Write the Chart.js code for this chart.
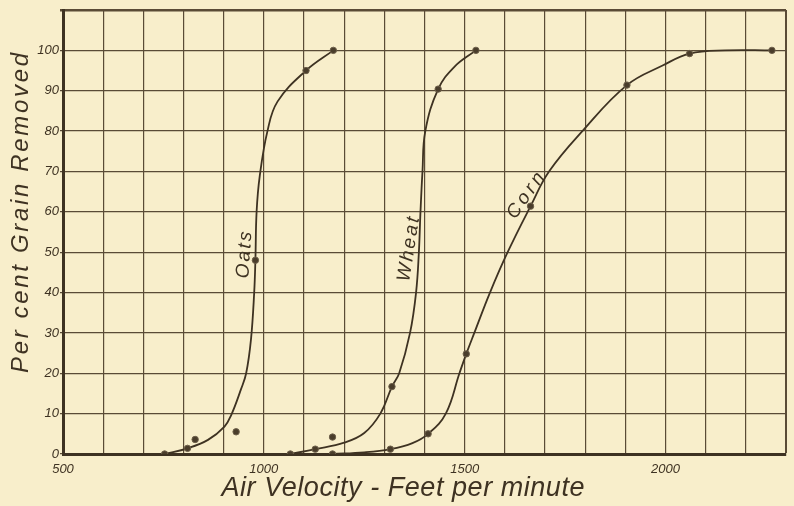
<!DOCTYPE html>
<html>
<head>
<meta charset="utf-8">
<script src="https://cdn.jsdelivr.net/npm/chart.js@4.4.1/dist/chart.umd.min.js"></script>
<style>
    html, body { margin: 0; padding: 0; background: #f8eecb; }
    #wrap { width: 794px; height: 506px; }
</style>
</head>
<body>
<div id="wrap"><canvas id="grain-chart" width="794" height="506"></canvas></div>
<script>
// ==========================================
// DATA
// ==========================================
// observed points (dots)
const oatsDotX  = [753, 810, 829, 931, 979, 1105, 1173];
const oatsDotY  = [0, 1.4, 3.6, 5.5, 48, 95, 100];
const wheatDotX = [1066, 1128, 1171, 1319, 1434, 1528];
const wheatDotY = [0, 1.2, 4.2, 16.7, 90.4, 100];
const cornDotX  = [1171, 1315, 1409, 1504, 1664, 1904, 2060, 2265];
const cornDotY  = [0, 1.2, 5, 24.8, 61.4, 91.4, 99.2, 100];

// the drawn (faired) curves
const oatsCurveX  = [753, 810, 861, 902, 919, 943, 956, 968, 976, 979, 982, 990, 1009, 1034, 1105, 1173];
const oatsCurveY  = [0, 1.4, 3.5, 6.8, 9.7, 16, 20, 28.4, 40, 48, 60, 69, 80, 87.3, 95, 100];
const wheatCurveX = [1066, 1128, 1200, 1250, 1290, 1319, 1337, 1364, 1379, 1386, 1390, 1395, 1402, 1434, 1475, 1528];
const wheatCurveY = [0, 1.2, 2.8, 5.2, 10, 16.7, 20, 30, 40, 50, 60, 70, 80, 90.4, 96, 100];
const cornCurveX  = [1171, 1250, 1315, 1370, 1409, 1453, 1487, 1504, 1524, 1563, 1607, 1664, 1710, 1793, 1904, 1994, 2060, 2149, 2265];
const cornCurveY  = [0, 0.4, 1.2, 2.7, 5, 10, 20, 24.8, 30, 40, 50, 61.4, 70, 80, 91.4, 96.3, 99.2, 100, 100];

const curveNames  = ['Oats', 'Wheat', 'Corn'];
const xTickLabels = [500, 1000, 1500, 2000];
const yTickLabels = [0, 10, 20, 30, 40, 50, 60, 70, 80, 90, 100];

// ==========================================
// STYLE
// ==========================================
const INK = '#3e3222';
const GRID = '#5a4b36';
const PAPER = '#f8eecb';
const FACE = '"Liberation Sans", Arial, sans-serif';

const toPoints = (xs, ys) => xs.map((x, i) => ({ x: x, y: ys[i] }));

function curveSet(xs, ys) {
    return {
        data: toPoints(xs, ys),
        showLine: true,
        borderColor: INK,
        borderWidth: 1.8,
        pointRadius: 0,
        tension: 0.4,
        fill: false,
        order: 2
    };
}

function dotSet(xs, ys) {
    return {
        data: toPoints(xs, ys),
        showLine: false,
        pointRadius: 3.2,
        pointBackgroundColor: '#4a3d2b',
        pointBorderColor: '#6e604a',
        pointBorderWidth: 1,
        order: 1
    };
}

// lettering spread to a given length (old plate hand-lettering is wide)
function letter(ctx, text, x, y, deg, size, target, baseline) {
    ctx.save();
    ctx.font = 'italic ' + size + 'px ' + FACE;
    ctx.letterSpacing = '0px';
    const w = ctx.measureText(text).width;
    const gap = Math.max(0, (target - w) / (text.length - 1));
    ctx.letterSpacing = gap + 'px';
    ctx.translate(x, y);
    ctx.rotate(deg * Math.PI / 180);
    ctx.textAlign = 'center';
    ctx.textBaseline = baseline || 'middle';
    ctx.fillStyle = INK;
    ctx.fillText(text, gap / 2, 0);
    ctx.restore();
}

const platePlugin = {
    id: 'plate',
    beforeDraw(chart) {
        const c = chart.ctx;
        c.save();
        c.fillStyle = PAPER;
        c.fillRect(0, 0, chart.width, chart.height);
        c.restore();
    },
    afterDraw(chart) {
        const c = chart.ctx;
        const xs = chart.scales.x, ys = chart.scales.y;

        // axis titles
        letter(c, 'Air Velocity - Feet per minute', 403, 496, 0, 27, 363, 'alphabetic');
        letter(c, 'Per cent Grain Removed', 28, 213, -90, 24, 320, 'alphabetic');

        // curve names along the lines
        const spots = [
            { x: 952,  y: 49.3, deg: -86, len: 47 },
            { x: 1361, y: 50.7, deg: -81, len: 65 },
            { x: 1652, y: 64,   deg: -55, len: 52 }
        ];
        curveNames.forEach((name, i) => {
            const s = spots[i];
            letter(c, name, xs.getPixelForValue(s.x), ys.getPixelForValue(s.y), s.deg, 19, s.len);
        });
    }
};

// ==========================================
// CHART
// ==========================================
new Chart(document.getElementById('grain-chart').getContext('2d'), {
    type: 'scatter',
    data: {
        datasets: [
            curveSet(oatsCurveX, oatsCurveY),
            curveSet(wheatCurveX, wheatCurveY),
            curveSet(cornCurveX, cornCurveY),
            dotSet(oatsDotX, oatsDotY),
            dotSet(wheatDotX, wheatDotY),
            dotSet(cornDotX, cornDotY)
        ]
    },
    options: {
        responsive: false,
        animation: false,
        layout: { padding: { top: 10, right: 1, left: 0, bottom: 0 } },
        plugins: { legend: { display: false }, tooltip: { enabled: false } },
        scales: {
            x: {
                type: 'linear', min: 500, max: 2300,
                afterFit: s => { s.height = 52; },
                ticks: {
                    stepSize: 100, autoSkip: false, maxRotation: 0, padding: 8,
                    color: INK, font: { family: FACE, style: 'italic', size: 13 },
                    callback: v => xTickLabels.includes(v) ? String(v) : ''
                },
                grid: {
                    color: GRID, drawTicks: false,
                    lineWidth: ctx => (ctx.tick && ctx.tick.value === 2300) ? 2 : 1.2
                },
                border: { color: INK, width: 3 }
            },
            y: {
                type: 'linear', min: 0, max: 110,
                afterFit: s => { s.width = 63; },
                ticks: {
                    stepSize: 10, padding: 1,
                    color: INK, font: { family: FACE, style: 'italic', size: 13 },
                    callback: v => yTickLabels.includes(v) ? String(v) : ''
                },
                grid: {
                    color: GRID, tickLength: 3,
                    lineWidth: ctx => (ctx.tick && ctx.tick.value === 110) ? 2.5 : 1.2
                },
                border: { color: INK, width: 3 }
            }
        }
    },
    plugins: [platePlugin]
});
</script>
</body>
</html>
